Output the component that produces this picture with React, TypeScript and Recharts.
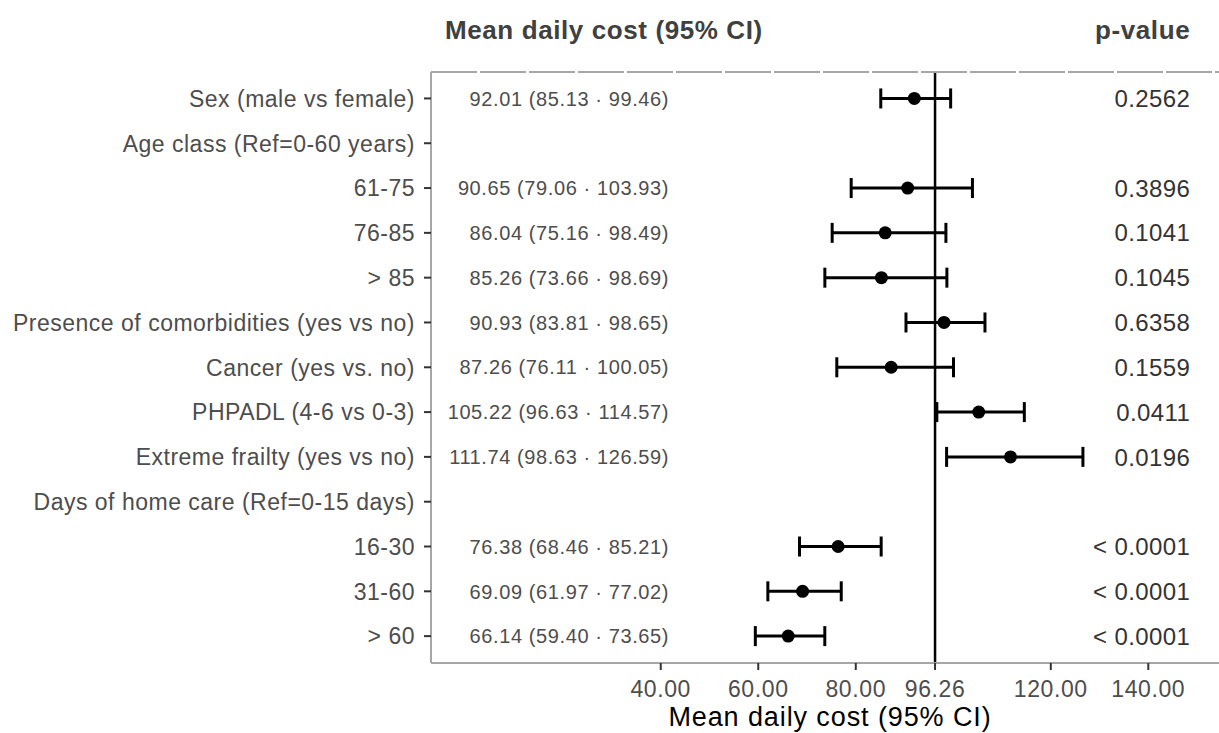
// Forest plot: mean daily cost with 95% CI, estimate column and p-values
import { ComposedChart, Scatter, ErrorBar, XAxis, YAxis, ReferenceLine } from 'recharts'

const CATEGORIES = [
  'Sex (male vs female)',
  'Age class (Ref=0-60 years)',
  '61-75',
  '76-85',
  '> 85',
  'Presence of comorbidities (yes vs no)',
  'Cancer (yes vs. no)',
  'PHPADL (4-6 vs 0-3)',
  'Extreme frailty (yes vs no)',
  'Days of home care (Ref=0-15 days)',
  '16-30',
  '31-60',
  '> 60',
]

// values as drawn in the picture (null = header row, no mark)
const MEAN = [92.01, null, 90.65, 86.04, 85.26, 98.1, 87.26, 105.22, 111.74, null, 76.38, 69.09, 66.14]
const LOW = [85.13, null, 79.06, 75.16, 73.66, 90.3, 76.11, 96.63, 98.63, null, 68.46, 61.97, 59.4]
const HIGH = [99.46, null, 103.93, 98.49, 98.69, 106.5, 100.05, 114.57, 126.59, null, 85.21, 77.02, 73.65]

const EST_LABELS = [
  '92.01 (85.13 · 99.46)', '', '90.65 (79.06 · 103.93)', '86.04 (75.16 · 98.49)', '85.26 (73.66 · 98.69)',
  '90.93 (83.81 · 98.65)', '87.26 (76.11 · 100.05)', '105.22 (96.63 · 114.57)', '111.74 (98.63 · 126.59)', '',
  '76.38 (68.46 · 85.21)', '69.09 (61.97 · 77.02)', '66.14 (59.40 · 73.65)',
]
const P_VALUES = ['0.2562', '', '0.3896', '0.1041', '0.1045', '0.6358', '0.1559', '0.0411', '0.0196', '', '< 0.0001', '< 0.0001', '< 0.0001']

const X_TICKS = [40, 60, 80, 96.26, 120, 140]
const REF_VALUE = 96.26
const HEADERS = ['Mean daily cost (95% CI)', 'p-value']
const AXIS_TITLE = 'Mean daily cost (95% CI)'

// column anchors, in x-axis units
const X_DOMAIN = [-7.12, 154.5]
const TITLE_COL = -4.25
const EST_COL = 41.7
const P_COL = 148.6

const FONT = '"Liberation Sans", Arial, sans-serif'

const points = MEAN.map((m, i) => ({ x: m, y: i, err: m == null ? null : [m - (LOW[i] as number), (HIGH[i] as number) - m] }))
  .filter((d) => d.x != null)
const estText = EST_LABELS.map((t, i) => ({ x: EST_COL, y: i, text: t })).filter((d) => d.text)
const pText = P_VALUES.map((t, i) => ({ x: P_COL, y: i, text: t })).filter((d) => d.text)

const YTick = ({ x, y, payload }: any) => (
  <text x={x} y={y} dy="0.36em" textAnchor="end" fill="#4d4d4d" fontSize={23} letterSpacing={0.5} fontFamily={FONT}>
    {CATEGORIES[payload.value]}
  </text>
)

const XTick = ({ x, y, payload }: any) => (
  <text x={x} y={y + 25} textAnchor="middle" fill="#4d4d4d" fontSize={23} letterSpacing={0.6} fontFamily={FONT}>
    {payload.value.toFixed(2)}
  </text>
)

const HeaderTick = ({ x, y, payload }: any) => {
  const isTitle = payload.value === TITLE_COL
  return (
    <text x={x} y={y - 31} textAnchor={isTitle ? 'start' : 'end'} fill="#404040" fontSize={26} fontWeight={700}
      letterSpacing={0.6} fontFamily={FONT}>
      {isTitle ? HEADERS[0] : HEADERS[1]}
    </text>
  )
}

const AxisTitle = ({ viewBox }: any) => (
  <text x={viewBox.x + viewBox.width / 2 + 5} y={viewBox.y + 63} textAnchor="middle" fill="#000" fontSize={27}
    letterSpacing={0.9} fontFamily={FONT}>
    {AXIS_TITLE}
  </text>
)

export default function App() {
  return (
    <div style={{ position: 'absolute', left: 0, top: 0, width: 1219, height: 733, background: '#fff' }}>
      <ComposedChart width={1219} height={733} margin={{ top: 0, right: 0, bottom: 0, left: 0 }}>
        <XAxis xAxisId="top" orientation="top" type="number" dataKey="x" domain={X_DOMAIN} allowDataOverflow
          ticks={[TITLE_COL, P_COL]} tick={<HeaderTick />} tickLine={false} tickSize={0} height={72}
          axisLine={{ stroke: '#a6a6a6', strokeWidth: 2, strokeDasharray: '46 3' }} />
        <XAxis type="number" dataKey="x" domain={X_DOMAIN} allowDataOverflow ticks={X_TICKS} interval={0}
          tick={<XTick />} tickSize={7} tickMargin={2} height={70} tickLine={{ stroke: '#333', strokeWidth: 2 }}
          axisLine={{ stroke: '#a6a6a6', strokeWidth: 2 }} label={<AxisTitle />} />
        <YAxis type="number" dataKey="y" domain={[-0.59, 12.6]} reversed allowDataOverflow
          ticks={CATEGORIES.map((_, i) => i)} interval={0} tick={<YTick />} width={431} tickSize={7} tickMargin={9}
          tickLine={{ stroke: '#333', strokeWidth: 2 }} axisLine={{ stroke: '#a6a6a6', strokeWidth: 2 }} />
        <ReferenceLine x={REF_VALUE} stroke="#000" strokeWidth={2.5} />
        <Scatter data={estText} isAnimationActive={false}
          shape={(p: any) => (
            <text x={p.cx} y={p.cy} dy="0.36em" textAnchor="end" fill="#4d4d4d" fontSize={20} letterSpacing={0.6} fontFamily={FONT}>
              {p.payload.text}
            </text>
          )} />
        <Scatter data={pText} isAnimationActive={false}
          shape={(p: any) => (
            <text x={p.cx} y={p.cy} dy="0.36em" textAnchor="end" fill="#333" fontSize={24} letterSpacing={0.4} fontFamily={FONT}>
              {p.payload.text}
            </text>
          )} />
        <Scatter data={points} isAnimationActive={false}
          shape={(p: any) => <circle cx={p.cx} cy={p.cy} r={6.5} fill="#000" />}>
          <ErrorBar dataKey="err" direction="x" width={10} stroke="#000" strokeWidth={3} />
        </Scatter>
      </ComposedChart>
    </div>
  )
}
